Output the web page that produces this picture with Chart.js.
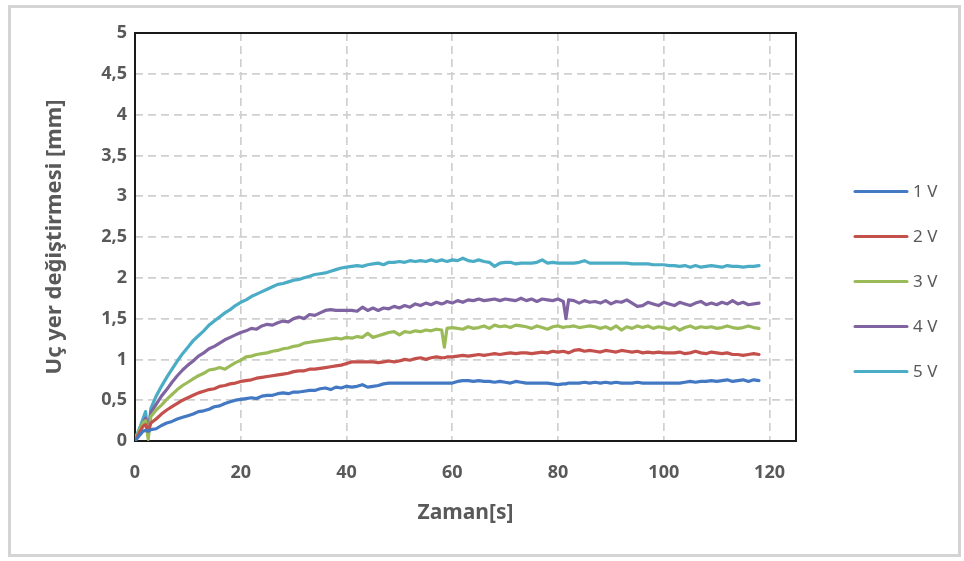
<!DOCTYPE html>
<html>
<head>
<meta charset="utf-8">
<script src="https://cdn.jsdelivr.net/npm/chart.js@4/dist/chart.umd.min.js"></script>
<style>
  html, body { margin: 0; padding: 0; background: #fff; }
  #wrap { position: relative; width: 964px; height: 561px; }
</style>
</head>
<body>
<div id="wrap"><canvas id="c" width="964" height="561"></canvas></div>
<script>
// Sampling instants (s)
const times = [0, 0.5, 1, 1.5, 2, 2.5, 3,
  4, 5, 6, 7, 8, 9, 10, 11, 12, 13, 14, 15, 16, 17, 18, 19, 20,
  21, 22, 23, 24, 25, 26, 27, 28, 29, 30, 31, 32, 33, 34, 35, 36, 37, 38, 39, 40,
  41, 42, 43, 44, 45, 46, 47, 48, 49, 50, 51, 52, 53, 54, 55, 56, 57, 58, 58.5, 59, 60,
  61, 62, 63, 64, 65, 66, 67, 68, 69, 70, 71, 72, 73, 74, 75, 76, 77, 78, 79, 80,
  81, 81.5, 82, 83, 84, 85, 86, 87, 88, 89, 90, 91, 92, 93, 94, 95, 96, 97, 98, 99, 100,
  101, 102, 103, 104, 105, 106, 107, 108, 109, 110, 111, 112, 113, 114, 115, 116, 117, 118];

// Tip displacement (mm) at 1 V
const v1 = [0, 0.04, 0.08, 0.12, 0.13, 0.12, 0.14,
  0.15, 0.19, 0.22, 0.24, 0.27, 0.29, 0.31, 0.33, 0.36, 0.37, 0.39, 0.42, 0.43, 0.46, 0.48, 0.50, 0.51,
  0.52, 0.53, 0.52, 0.55, 0.56, 0.56, 0.58, 0.59, 0.58, 0.60, 0.60, 0.61, 0.62, 0.62, 0.64, 0.65, 0.63, 0.66, 0.65, 0.67,
  0.66, 0.67, 0.69, 0.66, 0.67, 0.68, 0.70, 0.71, 0.71, 0.71, 0.71, 0.71, 0.71, 0.71, 0.71, 0.71, 0.71, 0.71, 0.71, 0.71, 0.71,
  0.73, 0.74, 0.74, 0.73, 0.74, 0.73, 0.73, 0.72, 0.73, 0.72, 0.71, 0.73, 0.72, 0.71, 0.71, 0.71, 0.71, 0.71, 0.70, 0.69,
  0.70, 0.70, 0.71, 0.71, 0.71, 0.72, 0.71, 0.72, 0.71, 0.72, 0.71, 0.72, 0.71, 0.71, 0.71, 0.72, 0.71, 0.71, 0.71, 0.71, 0.71,
  0.71, 0.71, 0.71, 0.72, 0.73, 0.72, 0.73, 0.73, 0.74, 0.73, 0.74, 0.75, 0.73, 0.74, 0.75, 0.73, 0.75, 0.74];

// Tip displacement (mm) at 2 V
const v2 = [0, 0.06, 0.12, 0.18, 0.20, 0.12, 0.22,
  0.27, 0.33, 0.38, 0.42, 0.46, 0.50, 0.53, 0.56, 0.59, 0.61, 0.63, 0.64, 0.67, 0.68, 0.70, 0.71, 0.73,
  0.74, 0.75, 0.77, 0.78, 0.79, 0.80, 0.81, 0.82, 0.83, 0.85, 0.86, 0.86, 0.88, 0.88, 0.89, 0.90, 0.91, 0.92, 0.93, 0.95,
  0.97, 0.97, 0.97, 0.97, 0.97, 0.96, 0.97, 0.98, 0.97, 0.98, 1.00, 0.99, 1.01, 1.02, 1.00, 1.02, 1.03, 1.02, 1.02, 1.03, 1.03,
  1.04, 1.05, 1.04, 1.05, 1.06, 1.05, 1.06, 1.07, 1.06, 1.07, 1.08, 1.07, 1.08, 1.08, 1.07, 1.08, 1.09, 1.08, 1.10, 1.09,
  1.10, 1.09, 1.08, 1.11, 1.12, 1.10, 1.11, 1.10, 1.09, 1.11, 1.10, 1.09, 1.11, 1.10, 1.09, 1.10, 1.08, 1.09, 1.08, 1.09, 1.08,
  1.08, 1.08, 1.09, 1.07, 1.08, 1.10, 1.08, 1.07, 1.09, 1.08, 1.07, 1.08, 1.06, 1.06, 1.05, 1.06, 1.07, 1.06];

// Tip displacement (mm) at 3 V
const v3 = [0, 0.08, 0.15, 0.22, 0.25, 0.02, 0.30,
  0.38, 0.44, 0.51, 0.57, 0.63, 0.68, 0.72, 0.76, 0.80, 0.83, 0.87, 0.88, 0.90, 0.88, 0.92, 0.96, 0.99,
  1.03, 1.04, 1.06, 1.07, 1.08, 1.10, 1.11, 1.13, 1.14, 1.16, 1.17, 1.20, 1.21, 1.22, 1.23, 1.24, 1.25, 1.26, 1.25, 1.27,
  1.26, 1.28, 1.27, 1.32, 1.27, 1.29, 1.31, 1.33, 1.34, 1.30, 1.34, 1.33, 1.35, 1.34, 1.36, 1.35, 1.37, 1.36, 1.15, 1.38, 1.39,
  1.38, 1.37, 1.40, 1.38, 1.39, 1.41, 1.38, 1.42, 1.40, 1.41, 1.39, 1.42, 1.41, 1.40, 1.38, 1.41, 1.39, 1.37, 1.40, 1.41,
  1.39, 1.40, 1.40, 1.41, 1.39, 1.40, 1.41, 1.40, 1.38, 1.40, 1.37, 1.41, 1.36, 1.40, 1.38, 1.41, 1.39, 1.41, 1.38, 1.40, 1.39,
  1.37, 1.40, 1.36, 1.39, 1.41, 1.38, 1.40, 1.39, 1.40, 1.38, 1.39, 1.41, 1.39, 1.38, 1.39, 1.41, 1.39, 1.38];

// Tip displacement (mm) at 4 V
const v4 = [0, 0.07, 0.14, 0.22, 0.28, 0.10, 0.35,
  0.45, 0.55, 0.63, 0.72, 0.80, 0.87, 0.93, 0.98, 1.04, 1.08, 1.13, 1.16, 1.20, 1.24, 1.27, 1.30, 1.33,
  1.35, 1.38, 1.37, 1.41, 1.43, 1.42, 1.45, 1.47, 1.46, 1.50, 1.52, 1.50, 1.55, 1.54, 1.57, 1.60, 1.61, 1.60, 1.60, 1.60,
  1.60, 1.59, 1.64, 1.60, 1.63, 1.60, 1.63, 1.62, 1.65, 1.63, 1.66, 1.64, 1.68, 1.66, 1.69, 1.67, 1.70, 1.68, 1.69, 1.71, 1.69,
  1.72, 1.70, 1.73, 1.72, 1.74, 1.72, 1.73, 1.74, 1.72, 1.74, 1.73, 1.72, 1.75, 1.72, 1.74, 1.71, 1.74, 1.73, 1.72, 1.74,
  1.71, 1.50, 1.73, 1.72, 1.69, 1.72, 1.70, 1.71, 1.69, 1.72, 1.68, 1.71, 1.70, 1.73, 1.69, 1.65, 1.66, 1.70, 1.68, 1.66, 1.70,
  1.68, 1.66, 1.70, 1.68, 1.66, 1.69, 1.71, 1.67, 1.69, 1.67, 1.70, 1.68, 1.72, 1.68, 1.70, 1.67, 1.68, 1.69];

// Tip displacement (mm) at 5 V
const v5 = [0.05, 0.10, 0.18, 0.27, 0.36, 0.06, 0.40,
  0.55, 0.67, 0.78, 0.88, 0.98, 1.07, 1.15, 1.23, 1.29, 1.35, 1.42, 1.47, 1.52, 1.57, 1.61, 1.66, 1.70,
  1.73, 1.77, 1.80, 1.83, 1.86, 1.89, 1.92, 1.93, 1.95, 1.97, 1.98, 2.00, 2.02, 2.04, 2.05, 2.06, 2.08, 2.10, 2.12, 2.13,
  2.14, 2.15, 2.14, 2.16, 2.17, 2.18, 2.16, 2.19, 2.19, 2.20, 2.19, 2.21, 2.20, 2.21, 2.20, 2.22, 2.20, 2.22, 2.21, 2.20, 2.22,
  2.21, 2.24, 2.21, 2.20, 2.22, 2.20, 2.19, 2.14, 2.18, 2.19, 2.19, 2.17, 2.18, 2.18, 2.18, 2.19, 2.22, 2.18, 2.19, 2.18,
  2.18, 2.18, 2.18, 2.18, 2.19, 2.21, 2.18, 2.18, 2.18, 2.18, 2.18, 2.18, 2.18, 2.18, 2.17, 2.17, 2.17, 2.17, 2.16, 2.16, 2.16,
  2.15, 2.15, 2.14, 2.15, 2.13, 2.15, 2.13, 2.14, 2.15, 2.14, 2.13, 2.15, 2.14, 2.14, 2.13, 2.14, 2.14, 2.15];

const seriesLabels = ['1 V', '2 V', '3 V', '4 V', '5 V'];
const seriesColors = ['#4379C3', '#C4504C', '#9BBB59', '#8064A2', '#4BACC6'];
const seriesValues = [v1, v2, v3, v4, v5];

const yTicks = [0, 0.5, 1, 1.5, 2, 2.5, 3, 3.5, 4, 4.5, 5];
const xTicks = [0, 20, 40, 60, 80, 100, 120];

const textGray = '#595959';
const fontFamily = '"Noto Sans", "DejaVu Sans", sans-serif';

// Outer panel border and black plot frame
const framePlugin = {
  id: 'frame',
  beforeDraw(chart) {
    const ctx = chart.ctx;
    ctx.save();
    ctx.fillStyle = '#ffffff';
    ctx.fillRect(0, 0, chart.width, chart.height);
    ctx.strokeStyle = '#D4D4D4';
    ctx.lineWidth = 3;
    ctx.strokeRect(9.5, 6.5, chart.width - 14, chart.height - 12);
    ctx.restore();
  },
  beforeDatasetsDraw(chart) {
    const { ctx, chartArea: a } = chart;
    ctx.save();
    ctx.strokeStyle = '#1a1a1a';
    ctx.lineWidth = 2;
    ctx.strokeRect(a.left, a.top, a.right - a.left, a.bottom - a.top);
    ctx.restore();
  }
};

// Legend drawn as line samples to the right of the plot
const legendPlugin = {
  id: 'lineLegend',
  afterDraw(chart) {
    const { ctx, chartArea: a } = chart;
    const x0 = a.right + 59;
    const len = 52;
    const y0 = 191.5;
    const step = 45;
    ctx.save();
    ctx.font = '17px ' + fontFamily;
    ctx.textBaseline = 'middle';
    ctx.textAlign = 'left';
    chart.data.datasets.forEach((ds, i) => {
      const y = y0 + i * step;
      ctx.strokeStyle = ds.borderColor;
      ctx.lineWidth = 3;
      ctx.lineCap = 'round';
      ctx.beginPath();
      ctx.moveTo(x0, y);
      ctx.lineTo(x0 + len, y);
      ctx.stroke();
      ctx.fillStyle = textGray;
      ctx.fillText(ds.label, x0 + len + 6, y + 1);
    });
    ctx.restore();
  }
};

const datasets = seriesValues.map((vals, i) => ({
  label: seriesLabels[i],
  data: times.map((t, k) => ({ x: t, y: vals[k] })),
  borderColor: seriesColors[i],
  backgroundColor: seriesColors[i],
  borderWidth: 3.2,
  pointRadius: 0,
  tension: 0,
  borderJoinStyle: 'round',
  borderCapStyle: 'round'
}));

const gridStyle = { color: '#D0D0D0', lineWidth: 1.7, drawTicks: false };
const gridDash = { display: false, dash: [8, 5] };

new Chart(document.getElementById('c'), {
  type: 'line',
  data: { datasets },
  plugins: [framePlugin, legendPlugin],
  options: {
    responsive: false,
    animation: false,
    events: [],
    layout: { padding: { left: 42, right: 168, top: 33, bottom: 35 } },
    plugins: {
      legend: { display: false },
      tooltip: { enabled: false },
      title: { display: false }
    },
    scales: {
      x: {
        type: 'linear',
        min: 0,
        max: 125,
        afterBuildTicks(scale) {
          scale.ticks = xTicks.map(v => ({ value: v }));
        },
        afterFit(scale) { scale.height = 85; },
        grid: gridStyle,
        border: gridDash,
        ticks: {
          padding: 21,
          color: textGray,
          font: { family: fontFamily, size: 18, weight: 'bold' },
          maxRotation: 0
        },
        title: {
          display: true,
          text: 'Zaman[s]',
          color: textGray,
          padding: { top: 0, bottom: 0 },
          font: { family: fontFamily, size: 21, weight: 'bold' }
        }
      },
      y: {
        type: 'linear',
        min: 0,
        max: 5,
        afterBuildTicks(scale) {
          scale.ticks = yTicks.map(v => ({ value: v }));
        },
        afterFit(scale) { scale.width = 93; },
        grid: gridStyle,
        border: gridDash,
        ticks: {
          padding: 8,
          color: textGray,
          font: { family: fontFamily, size: 18, weight: 'bold' },
          callback: v => String(v).replace('.', ',')
        },
        title: {
          display: true,
          text: 'Uç yer değiştirmesi [mm]',
          color: textGray,
          padding: { top: 0, bottom: 0 },
          font: { family: fontFamily, size: 22, weight: 'bold' }
        }
      }
    }
  }
});
</script>
</body>
</html>
